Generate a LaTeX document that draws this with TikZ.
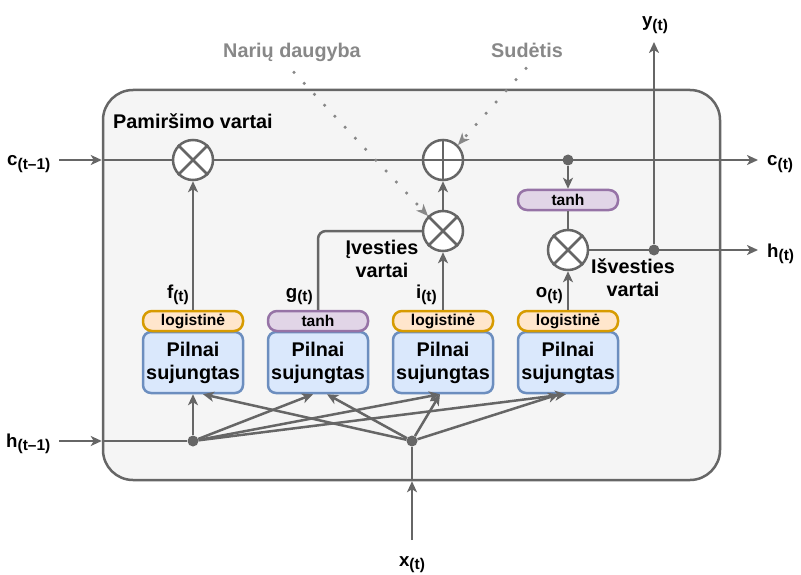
\documentclass[tikz,border=0pt]{standalone}
\usepackage{fontspec}
\setmainfont{Liberation Sans}
\usetikzlibrary{arrows.meta,calc}
\definecolor{ln}{HTML}{666666}
\definecolor{bgc}{HTML}{F5F5F5}
\definecolor{fcf}{HTML}{DAE8FC}
\definecolor{fcd}{HTML}{6C8EBF}
\definecolor{orf}{HTML}{FFE6CC}
\definecolor{ord}{HTML}{D79B00}
\definecolor{puf}{HTML}{E1D5E7}
\definecolor{pud}{HTML}{9673A6}
\definecolor{gtx}{HTML}{888888}
\newcommand\vlab[2]{#1{\fontsize{15.5}{15.5}\selectfont\raisebox{-0.4ex}{#2}}}
\tikzset{
  conn/.style={draw=ln, line width=2.5pt},
  arr/.style={conn, -{Stealth[length=11pt,width=10pt,inset=3pt]}},
  dotarr/.style={draw=gtx, line width=3.5pt, line cap=round, dash pattern=on 0pt off 15pt,
     -{Stealth[length=12pt,width=10pt,inset=3.5pt,line width=0pt]}},
  cellbox/.style={rectangle, draw=ln, fill=bgc, rounded corners=30pt, line width=2.5pt,
     minimum width=617pt, minimum height=390pt, inner sep=0pt},
  mult/.style={circle, draw=ln, fill=white, line width=2.5pt, minimum size=40pt, inner sep=0pt},
  dot/.style={circle, fill=ln, inner sep=0pt, minimum size=11pt},
  fc/.style={rectangle, rounded corners=8pt, draw=fcd, fill=fcf, line width=2.5pt,
     minimum width=100pt, minimum height=61pt, align=center, inner sep=0pt,
     font=\fontsize{19.8}{23}\selectfont\bfseries},
  act/.style={rectangle, rounded corners=9pt, line width=2.5pt, minimum width=100pt,
     minimum height=20pt, inner sep=0pt, font=\fontsize{15.6}{17}\selectfont\bfseries},
  orng/.style={act, draw=ord, fill=orf},
  purp/.style={act, draw=pud, fill=puf},
  lbl/.style={inner sep=0pt, font=\fontsize{19.8}{23}\selectfont\bfseries, align=center},
  var/.style={inner sep=0pt, font=\fontsize{18.7}{20}\selectfont\bfseries},
}
\begin{document}
\begin{tikzpicture}[x=1pt, y=-1pt]
\useasboundingbox (0,0) rectangle (801,575);
% cell
\node[cellbox] (cell) at (411.5,285) {};
% circles
\node[mult] (fm) at (193,160) {};
\node[mult] (plus) at (443,160) {};
\node[mult] (im) at (443,231) {};
\node[mult] (om) at (568,250) {};
\draw[conn] (fm.north east) -- (fm.south west) (fm.north west) -- (fm.south east);
\draw[conn] (im.north east) -- (im.south west) (im.north west) -- (im.south east);
\draw[conn] (om.north east) -- (om.south west) (om.north west) -- (om.south east);
\draw[conn] (plus.north) -- (plus.south) (plus.west) -- (plus.east);
% output tanh
\node[purp] (tc) at (568,200) {tanh};
% dots
\node[dot] (dc) at (568,160) {};
\node[dot] (dh) at (654,250) {};
\node[dot] (dhx) at (193,441) {};
\node[dot] (dxx) at (412,441) {};
% fully connected layers
\foreach \i/\x in {1/193,2/318,3/443,4/568} {
  \node[fc] (fc\i) at (\x,362.5) {Pilnai\\sujungtas};
}
\node[orng] (a1) at (193,321) {logistinė};
\node[purp] (a2) at (318,321) {tanh};
\node[orng] (a3) at (443,321) {logistinė};
\node[orng] (a4) at (568,321) {logistinė};
% labels
\node[lbl, anchor=base west] (pam) at (113,129) {Pamiršimo vartai};
\node[lbl] (ivv) at (382,259) {Įvesties\\vartai};
\node[lbl] (isv) at (633,278) {Išvesties\\vartai};
\node[lbl, text=gtx, anchor=base] (nd) at (292,58) {Narių daugyba};
\node[lbl, text=gtx, anchor=base] (sd) at (527,58) {Sudėtis};
\node[var, anchor=base west] (lc1) at (7,166) {\vlab{c}{(t–1)}};
\node[var, anchor=base west] (lh1) at (6,447) {\vlab{h}{(t–1)}};
\node[var, anchor=base west] (lct) at (767,166) {\vlab{c}{(t)}};
\node[var, anchor=base west] (lht) at (767,257) {\vlab{h}{(t)}};
\node[var, anchor=base] (lyt) at (655,27) {\vlab{y}{(t)}};
\node[var, anchor=base] (lxt) at (412,566) {\vlab{x}{(t)}};
\node[var, anchor=base east] (lf) at (189,298) {\vlab{f}{(t)}};
\node[var, anchor=base east] (lg) at (313,298) {\vlab{g}{(t)}};
\node[var, anchor=base east] (li) at (437,298) {\vlab{i}{(t)}};
\node[var, anchor=base east] (lo) at (563,297) {\vlab{o}{(t)}};
% free ends
\coordinate (cin) at (59,160);
\coordinate (cout) at (758,160);
\coordinate (hout) at (758,250);
\coordinate (yout) at (654,42);
\coordinate (hin) at (59,441);
\coordinate (xin) at (412,540);
\coordinate (cL) at (cell.west |- fm);
\coordinate (hL) at (cell.west |- dhx);
\coordinate (xB) at (cell.south -| dxx);
% cell state line
\draw[arr] (cin) -- (cL);
\draw[conn] (cL) -- (fm);
\draw[conn] (fm) -- (plus);
\draw[arr] (plus) -- (cout);
\draw[arr] (dc) -- (tc);
\draw[conn] (tc) -- (om);
\draw[arr] (om) -- (hout);
\draw[arr] (dh) -- (yout);
% gates
\draw[arr] (a1) -- (fm);
\draw[conn, rounded corners=8pt] (a2.north) |- (im.west);
\draw[arr] (a3) -- (im);
\draw[arr] (im) -- (plus);
\draw[arr] (a4) -- (om);
% inputs
\draw[arr] (hin) -- (hL);
\draw[conn] (hL) -- (dhx);
\draw[arr] (xin) -- (xB);
\draw[conn] (xB) -- (dxx);
\draw[arr] (dhx) -- (fc1.south);
\draw[arr] (dhx) -- ([xshift=-5pt]fc2.south);
\draw[arr] (dhx) -- ([xshift=-3pt]fc3.south);
\draw[arr] (dhx) -- ([xshift=-2pt]fc4.south);
\draw[arr] (dxx) -- ([xshift=10pt]fc1.south);
\draw[arr] (dxx) -- ([xshift=9pt]fc2.south);
\draw[arr] (dxx) -- ([xshift=-3pt]fc3.south);
\draw[arr] (dxx) -- ([xshift=-9pt]fc4.south);
% annotations
\draw[dotarr] ([xshift=2pt,yshift=-10pt]nd.south) -- (im.north west);
\draw[dotarr] ([xshift=-1pt,yshift=-10pt]sd.south) -- (plus.north east);
\end{tikzpicture}
\end{document}
